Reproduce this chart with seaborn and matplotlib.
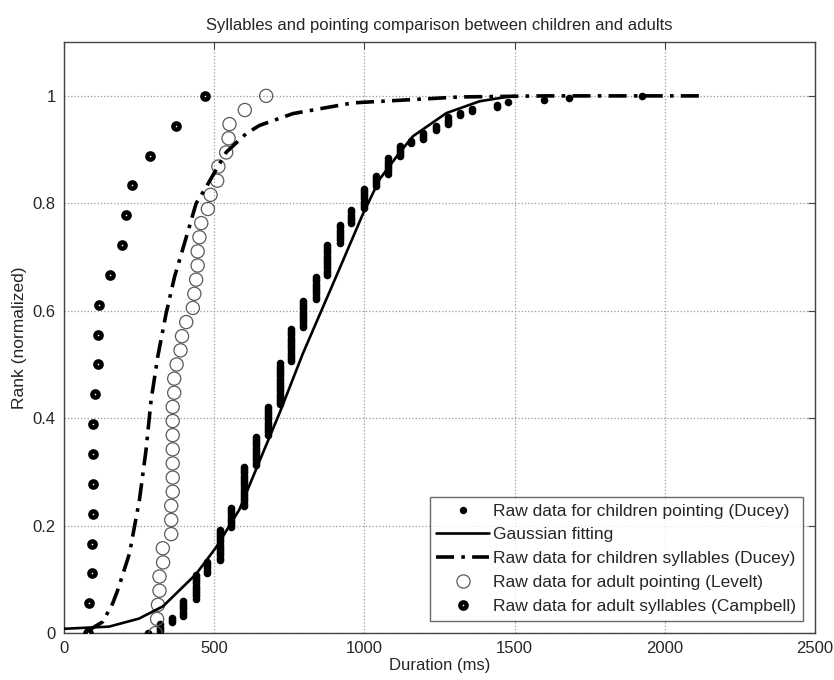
import matplotlib
matplotlib.use("Agg")
import matplotlib.pyplot as plt
from matplotlib.lines import Line2D
import numpy as np
import pandas as pd
import seaborn as sns

# Children pointing (Ducey): durations (ms) and how many trials share each duration
child_point_ms = [279, 320, 359, 395, 438, 477, 518, 557, 598, 638, 679, 718,
                  757, 795, 840, 875, 918, 957, 1000, 1040, 1079, 1118, 1156,
                  1196, 1240, 1279, 1318, 1357, 1440, 1479, 1598, 1682, 1923]
child_point_count = [1, 4, 3, 8, 12, 6, 15, 10, 19, 14, 14, 20, 16, 13, 11, 15,
                     9, 7, 10, 6, 8, 6, 2, 4, 3, 4, 2, 2, 2, 1, 1, 1, 1]

# Gaussian fitting curve
gauss_ms = [0, 150, 250, 330, 440, 507, 584, 662, 718, 795, 907, 995, 1051,
            1118, 1162, 1273, 1384, 1473, 1500]
gauss_rank = [0.008, 0.012, 0.027, 0.05, 0.11, 0.16, 0.23, 0.335, 0.41, 0.52,
              0.665, 0.78, 0.845, 0.895, 0.925, 0.968, 0.99, 0.998, 1.0]

# Children syllables (Ducey) curve
child_syl_ms = [79, 129, 162, 179, 218, 251, 273, 290, 312, 340, 368, 404, 440,
                473, 512, 540, 607, 651, 762, 962, 1318, 1600, 2135]
child_syl_rank = [0.004, 0.021, 0.055, 0.08, 0.148, 0.247, 0.34, 0.433, 0.514,
                  0.595, 0.663, 0.731, 0.80, 0.83, 0.868, 0.895, 0.93, 0.945,
                  0.967, 0.987, 0.998, 1.0, 1.0]

# Adult pointing (Levelt), sorted durations
adult_point_ms = [305, 310, 313, 318, 318, 330, 329, 357, 357, 357, 362, 362,
                  362, 362, 362, 362, 362, 367, 367, 375, 388, 393, 407, 429,
                  434, 440, 445, 445, 451, 457, 479, 488, 510, 514, 540, 548,
                  551, 602, 673]

# Adult syllables (Campbell), sorted durations
adult_syl_ms = [80, 84, 92, 92, 95, 95, 95, 95, 104, 114, 114, 118, 154, 194,
                208, 227, 287, 373, 470]

labels = ["Raw data for children pointing (Ducey)", "Gaussian fitting",
          "Raw data for children syllables (Ducey)",
          "Raw data for adult pointing (Levelt)",
          "Raw data for adult syllables (Campbell)"]


def ranked(ms):
    ms = np.asarray(ms, dtype=float)
    return pd.DataFrame({"ms": ms, "rank": np.arange(len(ms)) / (len(ms) - 1)})


sns.set_style("white")
plt.rcParams["font.family"] = ["Liberation Sans", "DejaVu Sans"]
plt.rcParams["xtick.direction"] = "in"
plt.rcParams["ytick.direction"] = "in"

fig = plt.figure(figsize=(8.34, 6.8), dpi=100)
ax = fig.add_axes([0.0767, 0.069, 0.9005, 0.869])

cp = ranked(np.repeat(child_point_ms, child_point_count))
sns.scatterplot(data=cp, x="ms", y="rank", ax=ax, color="black", s=30,
                linewidth=0, marker="o", zorder=3)

sns.lineplot(x=gauss_ms, y=gauss_rank, ax=ax, color="black", lw=1.9,
             estimator=None, sort=False, zorder=4)

sns.lineplot(x=child_syl_ms, y=child_syl_rank, ax=ax, color="black", lw=2.6,
             estimator=None, sort=False, zorder=4)
ax.lines[-1].set_dashes([5, 2, 1, 2])

ap = ranked(adult_point_ms)
sns.scatterplot(data=ap, x="ms", y="rank", ax=ax, facecolor="none",
                edgecolor="#5a5a5a", s=90, linewidth=0.9, zorder=3)

asy = ranked(adult_syl_ms)
sns.scatterplot(data=asy, x="ms", y="rank", ax=ax, facecolor="white",
                edgecolor="black", s=20, linewidth=3.2, zorder=3)

ax.set_xlim(0, 2500)
ax.set_ylim(0, 1.1)
ax.set_xticks([0, 500, 1000, 1500, 2000, 2500])
ax.set_yticks([0, 0.2, 0.4, 0.6, 0.8, 1.0])
ax.set_yticklabels(["0", "0.2", "0.4", "0.6", "0.8", "1"])
ax.tick_params(labelsize=12, top=True, right=True, length=5, color="#444444",
               pad=6)
ax.grid(True, linestyle=":", color="#999999", lw=0.9)
ax.set_axisbelow(True)
for s in ax.spines.values():
    s.set_color("#444444")
    s.set_linewidth(1.0)

ax.set_xlabel("Duration (ms)", fontsize=12, labelpad=1)
ax.set_ylabel("Rank (normalized)", fontsize=12.5, labelpad=4)
ax.set_title("Syllables and pointing comparison between children and adults",
             fontsize=12, pad=9)

handles = [
    Line2D([], [], color="black", marker="o", ms=5.3, lw=0, mew=0),
    Line2D([], [], color="black", lw=1.9),
    Line2D([], [], color="black", lw=2.6, dashes=[5, 2, 1, 2]),
    Line2D([], [], color="#5a5a5a", marker="o", ms=9.5, lw=0,
           mfc="white", mew=0.9),
    Line2D([], [], color="black", marker="o", ms=4.5, lw=0, mfc="white",
           mew=3.2),
]
leg = ax.legend(handles, labels, loc="lower right", fontsize=12.5,
                frameon=True, fancybox=False, edgecolor="#444444",
                handlelength=3.0, handletextpad=0.25, labelspacing=0.5,
                borderaxespad=0.7, borderpad=0.4)
leg.get_frame().set_linewidth(1.0)

fig.savefig("out.png", dpi=100)
